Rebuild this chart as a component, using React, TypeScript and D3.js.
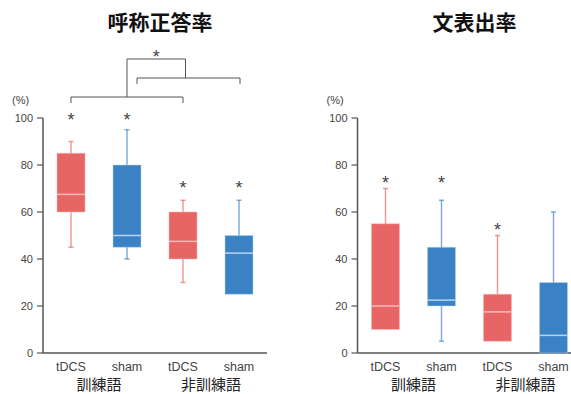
import React from "react";
import * as d3 from "d3";

// box stats: [min, q1, median, q3, max]
const categories = ["tDCS", "sham", "tDCS", "sham"];
const groups = ["訓練語", "非訓練語"];
const yTicks = [0, 20, 40, 60, 80, 100];

const namingBoxes = [
  [45, 60, 67.5, 85, 90],
  [40, 45, 50, 80, 95],
  [30, 40, 47.5, 60, 65],
  [25, 25, 42.5, 50, 65],
];
const namingStars = [101, 101, 72, 72];

const sentenceBoxes = [
  [10, 10, 20, 55, 70],
  [5, 20, 22.5, 45, 65],
  [5, 5, 17.5, 25, 50],
  [0, 0, 7.5, 30, 60],
];
const sentenceStars = [74, 74, 54, null];

const RED = "#e76565";
const BLUE = "#3b82c5";
const FONT = "'Liberation Sans', Arial, sans-serif";
const JP = "'Noto Sans CJK JP', sans-serif";

const y = d3.scaleLinear().domain([0, 100]).range([353, 118]);

type PanelProps = {
  left: number;
  title: string;
  boxes: number[][];
  stars: (number | null)[];
  brackets?: boolean;
};

const Panel = ({ left, title, boxes, stars, brackets }: PanelProps) => {
  const x = d3
    .scaleBand<number>()
    .domain([0, 1, 2, 3])
    .range([left, left + 224])
    .paddingInner(0.5)
    .paddingOuter(0.25);
  const cx = (i: number) => (x(i) as number) + x.bandwidth() / 2;
  const bw = x.bandwidth();

  const b1 = { x1: cx(0), x2: cx(2), y: 97 };
  const b2 = { x1: cx(1) + 10, x2: cx(3) + 1, y: 78 };
  const m1 = (b1.x1 + b1.x2) / 2;
  const m2 = (b2.x1 + b2.x2) / 2 - 3;

  return (
    <g>
      <text
        x={left + 117}
        y={30}
        textAnchor="middle"
        fontFamily={JP}
        fontWeight="bold"
        fontSize={21}
        fill="#111"
      >
        {title}
      </text>
      <text x={left - 31} y={104} fontFamily={FONT} fontSize={11} fill="#444">
        (%)
      </text>

      {/* y axis */}
      <line x1={left} x2={left} y1={y(100)} y2={y(0)} stroke="#555" strokeWidth={1.5} />
      {yTicks.map((t) => (
        <g key={t}>
          <line x1={left - 6} x2={left} y1={y(t)} y2={y(t)} stroke="#555" strokeWidth={1.2} />
          <text
            x={left - 10}
            y={y(t) + 4}
            textAnchor="end"
            fontFamily={FONT}
            fontSize={11}
            fill="#444"
          >
            {t}
          </text>
        </g>
      ))}
      <line x1={left} x2={left + 224} y1={y(0)} y2={y(0)} stroke="#555" strokeWidth={1.5} />

      {/* boxes */}
      {boxes.map((b, i) => {
        const c = i % 2 === 0 ? RED : BLUE;
        const light = i % 2 === 0 ? "#f7baba" : "#b9d3ee";
        const [mn, q1, md, q3, mx] = b;
        return (
          <g key={i}>
            <line x1={cx(i)} x2={cx(i)} y1={y(mx)} y2={y(mn)} stroke={c} strokeOpacity={0.65} strokeWidth={1.5} />
            <line x1={cx(i) - 2.5} x2={cx(i) + 2.5} y1={y(mx)} y2={y(mx)} stroke={c} strokeOpacity={0.65} strokeWidth={1.5} />
            {mn < q1 && (
              <line x1={cx(i) - 2.5} x2={cx(i) + 2.5} y1={y(mn)} y2={y(mn)} stroke={c} strokeOpacity={0.65} strokeWidth={1.5} />
            )}
            <rect
              x={cx(i) - bw / 2}
              y={y(q3)}
              width={bw}
              height={y(q1) - y(q3)}
              fill={c}
              stroke={light}
              strokeOpacity={0.5}
              strokeWidth={1}
            />
            <line x1={cx(i) - bw / 2} x2={cx(i) + bw / 2} y1={y(md)} y2={y(md)} stroke={light} strokeWidth={1.5} />
          </g>
        );
      })}

      {/* stars */}
      {stars.map((s, i) =>
        s === null ? null : (
          <text key={i} x={cx(i)} y={y(s) + 10} textAnchor="middle" fontFamily={FONT} fontSize={18} fill="#444">
            *
          </text>
        )
      )}

      {/* category labels */}
      {categories.map((c, i) => (
        <text key={i} x={cx(i)} y={371} textAnchor="middle" fontFamily={FONT} fontSize={12.5} fill="#444">
          {c}
        </text>
      ))}
      {groups.map((g, gi) => (
        <text
          key={g}
          x={(cx(gi * 2) + cx(gi * 2 + 1)) / 2}
          y={390}
          textAnchor="middle"
          fontFamily={JP}
          fontSize={15}
          fill="#222"
        >
          {g}
        </text>
      ))}

      {brackets && (
        <g stroke="#555" strokeWidth={1} fill="none">
          <path d={`M${b1.x1},${b1.y + 6}V${b1.y}H${b1.x2}V${b1.y + 6}`} />
          <path d={`M${b2.x1},${b2.y + 6}V${b2.y}H${b2.x2}V${b2.y + 6}`} />
          <path d={`M${m1},${b1.y}V59H${m2}V${b2.y}`} />
        </g>
      )}
      {brackets && (
        <text x={(m1 + m2) / 2} y={63} textAnchor="middle" fontFamily={FONT} fontSize={18} fill="#444">
          *
        </text>
      )}
    </g>
  );
};

export default function App() {
  return (
    <svg
      width={571}
      height={394}
      style={{ position: "absolute", left: 0, top: 0, background: "#fff" }}
    >
      <Panel left={43} title="呼称正答率" boxes={namingBoxes} stars={namingStars} brackets />
      <Panel left={357.5} title="文表出率" boxes={sentenceBoxes} stars={sentenceStars} />
    </svg>
  );
}
